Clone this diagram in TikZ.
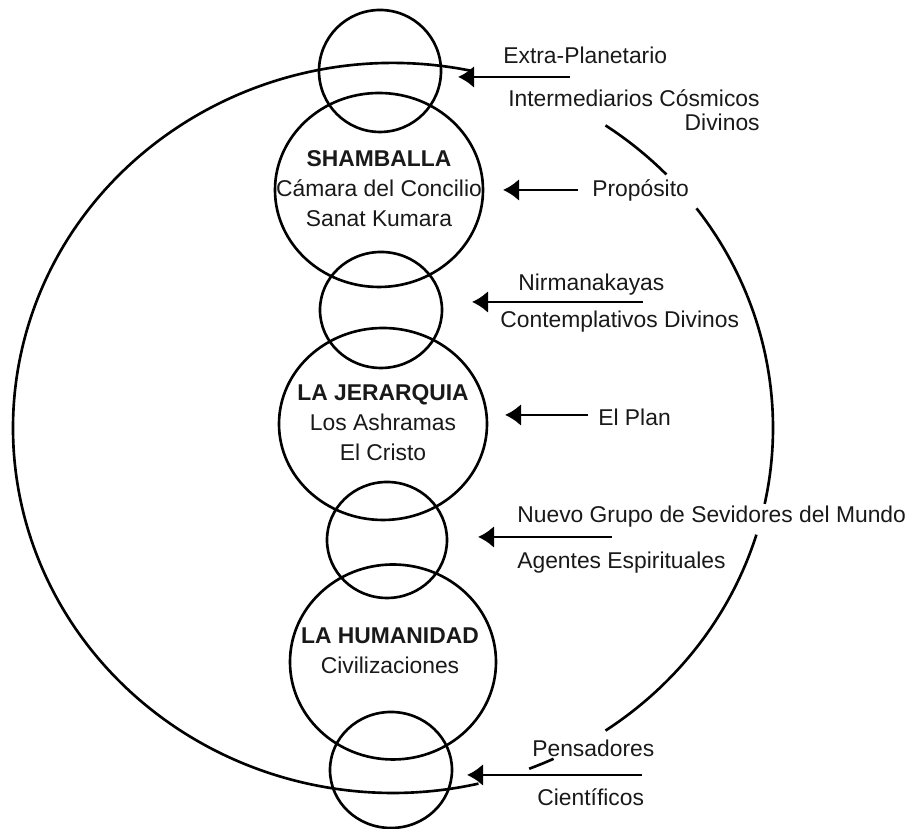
\documentclass[tikz,border=0pt]{standalone}
\usepackage{fontspec}
\setmainfont{Liberation Sans}
\usetikzlibrary{shapes.geometric,arrows.meta,positioning}

\begin{document}
\begin{tikzpicture}[
    orb/.style={draw, ellipse, line width=1.5pt, inner sep=0pt},
    lbl/.style={inner sep=0pt, anchor=west, text=black!90, font=\fontsize{13}{16}\selectfont},
    inside/.style={inner sep=0pt, align=center, text=black!90, font=\fontsize{13}{17}\selectfont},
    loopline/.style={line width=1.5pt},
    arr/.style={-{Latex[length=0.32cm,width=0.44cm]}, line width=1.6pt}]
    \useasboundingbox (0,0) rectangle (18.26,16.58);

    % Circles
    \node[orb, minimum width=2.44cm, minimum height=2.44cm] (extra) at (7.6,15.16) {};
    \node[orb, minimum width=4.16cm, minimum height=3.88cm] (shamballa) at (7.58,12.78) {};
    \node[orb, minimum width=2.44cm, minimum height=2.32cm] (nirman) at (7.62,10.38) {};
    \node[orb, minimum width=4.16cm, minimum height=3.84cm] (jerarquia) at (7.66,8.10) {};
    \node[orb, minimum width=2.40cm, minimum height=2.32cm] (nuevo) at (7.74,5.78) {};
    \node[orb, minimum width=4.12cm, minimum height=3.90cm] (humanidad) at (7.86,3.34) {};
    \node[orb, minimum width=2.44cm, minimum height=2.32cm] (pensar) at (7.82,1.18) {};

    % Texts inside
    \node[inside] (shambtxt) at (7.58,12.80) {\textbf{SHAMBALLA}\\Cámara del Concilio\\Sanat Kumara};
    \node[inside] (jerartxt) at (7.66,8.12) {\textbf{LA JERARQUIA}\\Los Ashramas\\El Cristo};
    \node[inside] (humantxt) at (7.80,3.56) {\textbf{LA HUMANIDAD}\\Civilizaciones};

    % Big loop
    \coordinate (loopc) at (7.86,8.02);
    \foreach \a/\b in {78/283, -69/-65, -56/-17, -12/37, 44/56}
        \draw[loopline] (loopc) ++(\a:7.6 and 7.3) arc[start angle=\a, end angle=\b, x radius=7.6, y radius=7.3];

    % Labels on the right
    \node[lbl] (extralbl) at (10.06,15.48) {Extra-Planetario};
    \node[lbl, anchor=east, align=right, font=\fontsize{13}{13.6}\selectfont] (interlbl) at (15.2,14.38) {Intermediarios Cósmicos\\Divinos};
    \node[lbl] (proplbl) at (11.84,12.78) {Propósito};
    \node[lbl] (nirmanlbl) at (10.36,10.88) {Nirmanakayas};
    \node[lbl] (contemplbl) at (10.0,10.14) {Contemplativos Divinos};
    \node[lbl] (planlbl) at (11.96,8.24) {El Plan};
    \node[lbl] (nuevolbl) at (10.34,6.24) {Nuevo Grupo de Sevidores del Mundo};
    \node[lbl] (agentlbl) at (10.34,5.32) {Agentes Espirituales};
    \node[lbl] (pensalbl) at (10.64,1.62) {Pensadores};
    \node[lbl] (cientlbl) at (10.74,0.64) {Científicos};

    % Arrows
    \coordinate (extrafrom) at (11.4,15.04);   \coordinate (extratip) at (9.16,15.04);
    \coordinate (propfrom) at (11.56,12.78);   \coordinate (proptip) at (10.06,12.78);
    \coordinate (nirmanfrom) at (12.86,10.54); \coordinate (nirmantip) at (9.44,10.54);
    \coordinate (planfrom) at (11.76,8.28);    \coordinate (plantip) at (10.1,8.28);
    \coordinate (nuevofrom) at (12.24,5.84);   \coordinate (nuevotip) at (9.56,5.84);
    \coordinate (pensafrom) at (12.84,1.08);   \coordinate (pensatip) at (9.34,1.08);
    \draw[arr] (extrafrom) -- (extratip);
    \draw[arr] (propfrom) -- (proptip);
    \draw[arr] (nirmanfrom) -- (nirmantip);
    \draw[arr] (planfrom) -- (plantip);
    \draw[arr] (nuevofrom) -- (nuevotip);
    \draw[arr] (pensafrom) -- (pensatip);
\end{tikzpicture}
\end{document}
